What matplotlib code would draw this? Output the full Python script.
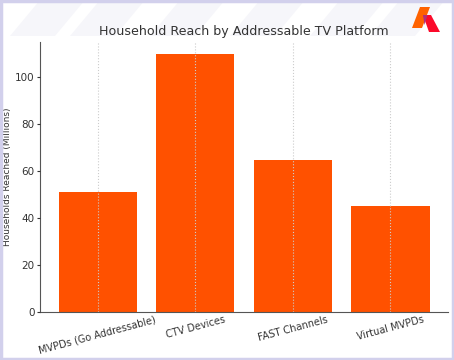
import matplotlib.pyplot as plt
from matplotlib.patches import Polygon, Rectangle

platforms = ["MVPDs (Go Addressable)", "CTV Devices", "FAST Channels", "Virtual MVPDs"]
households = [51, 110, 65, 45]

W, H = 454, 360


def px(points):
    # pixel coords (from top-left) -> figure fraction
    return [(x / W, 1 - y / H) for x, y in points]


fig = plt.figure(figsize=(4.54, 3.6), dpi=100)
fig.patch.set_facecolor("white")

# faint background stripes across the top
for x0 in [10, 70, 150, 230, 310, 370]:
    fig.patches.append(
        Polygon(px([(x0, 36), (x0 + 30, 0), (x0 + 75, 0), (x0 + 45, 36)]),
                closed=True, transform=fig.transFigure,
                facecolor="#f6f6fa", edgecolor="none", zorder=-2)
    )
fig.patches.append(
    Rectangle((0.002, 0.003), 0.996, 0.994, transform=fig.transFigure,
              facecolor="none", edgecolor="#d2d0ec", linewidth=2.5, zorder=5)
)

# logo top-right
fig.patches.append(
    Polygon(px([(412, 28), (420, 7), (430, 7), (422, 28)]), closed=True,
            transform=fig.transFigure, facecolor="#ff6200", edgecolor="none", zorder=6)
)
fig.patches.append(
    Polygon(px([(423, 15), (431, 15), (440, 32), (429, 32)]), closed=True,
            transform=fig.transFigure, facecolor="#fb0a2a", edgecolor="none", zorder=6)
)
fig.patches.append(
    Polygon(px([(423, 15), (427.5, 15), (424.5, 25)]), closed=True,
            transform=fig.transFigure, facecolor="#b0307a", edgecolor="none", zorder=7)
)

ax = fig.add_axes([0.088, 0.133, 0.899, 0.75])
ax.set_facecolor("none")
ax.bar(platforms, households, width=0.8, color="#ff5100", zorder=1)
ax.set_ylim(0, 115)

ax.grid(axis="x", color="#cccccc", linestyle=":", linewidth=0.8, zorder=2)
ax.set_axisbelow(False)
for side in ["top", "right"]:
    ax.spines[side].set_visible(False)
for side in ["left", "bottom"]:
    ax.spines[side].set_color("#555555")

ax.set_title("Household Reach by Addressable TV Platform", fontsize=9.1, color="#333333", pad=5)
ax.set_ylabel("Households Reached (Millions)", fontsize=6.5, color="#333333", labelpad=2)
ax.tick_params(axis="y", labelsize=7.5, colors="#333333", length=2.5, pad=1.5)
ax.tick_params(axis="x", labelsize=7, colors="#333333", length=0, pad=1.5)
plt.setp(ax.get_xticklabels(), rotation=15, ha="center")

fig.savefig("out.png", dpi=100)
